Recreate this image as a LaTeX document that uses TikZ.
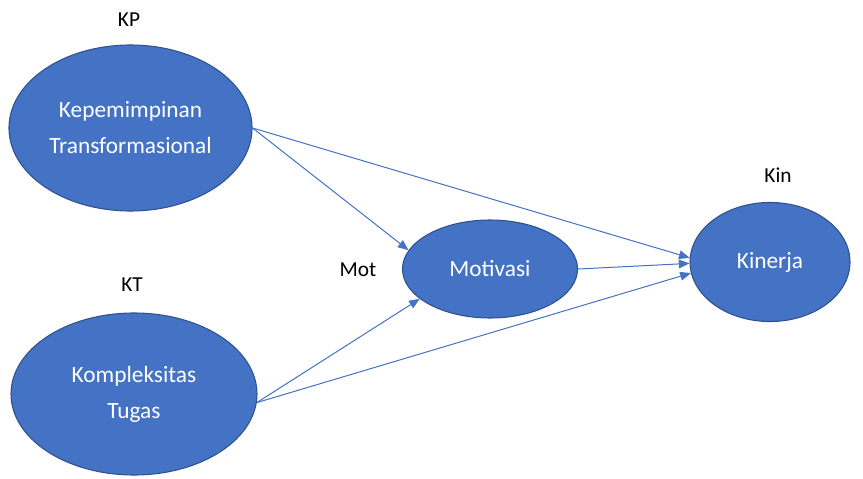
\documentclass[tikz,border=0pt]{standalone}
\usepackage{fontspec}
\setmainfont{Carlito}
\usepackage{tikz}
\usetikzlibrary{arrows.meta}
\usetikzlibrary{shapes.geometric}
\usetikzlibrary{positioning}

\definecolor{varblue}{HTML}{4472C4}
\definecolor{varedge}{HTML}{2F528F}

\begin{document}
\begin{tikzpicture}[x=0.75pt, y=-0.75pt]
	\useasboundingbox (0,0) rectangle (863,478);
	\begin{scope}[every node/.style={ellipse, draw=varedge, line width=0.8pt, fill=varblue,
	              text=white, inner sep=0pt, align=center,
	              font=\fontsize{17.5}{27}\selectfont}]
		\node[minimum width=182.3pt, minimum height=124.5pt] (kp) at (130.5,128) {Kepemimpinan\\Transformasional};
		\node[minimum width=184.5pt, minimum height=121.5pt] (kt) at (134,394) {Kompleksitas\\Tugas};
		\node[minimum width=131.3pt, minimum height=73.5pt] (mot) at (490,269) {Motivasi};
		\node[minimum width=120pt, minimum height=89.3pt] (kin) at (770,262) {Kinerja};
	\end{scope}

	\begin{scope}[every node/.style={font=\fontsize{16}{19}\selectfont, inner sep=0pt}]
		\node (kplabel) at (129,20) {KP};
		\node (ktlabel) at (132,285) {KT};
		\node (motlabel) at (358,270) {Mot};
		\node (kinlabel) at (778,175) {Kin};
	\end{scope}

	\begin{scope}[>={Triangle[length=8pt, width=6.5pt]},
	              every edge/.style={draw=varblue, line width=0.75pt}]
		\path (kp.east) edge[->] (mot.167);
		\path (kp.east) edge[->] (kin.177);
		\path (kt.356) edge[->] (mot.203);
		\path (kt.356) edge[->] (kin.188);
		\path (mot.east) edge[->] (kin.181);
	\end{scope}
\end{tikzpicture}
\end{document}
